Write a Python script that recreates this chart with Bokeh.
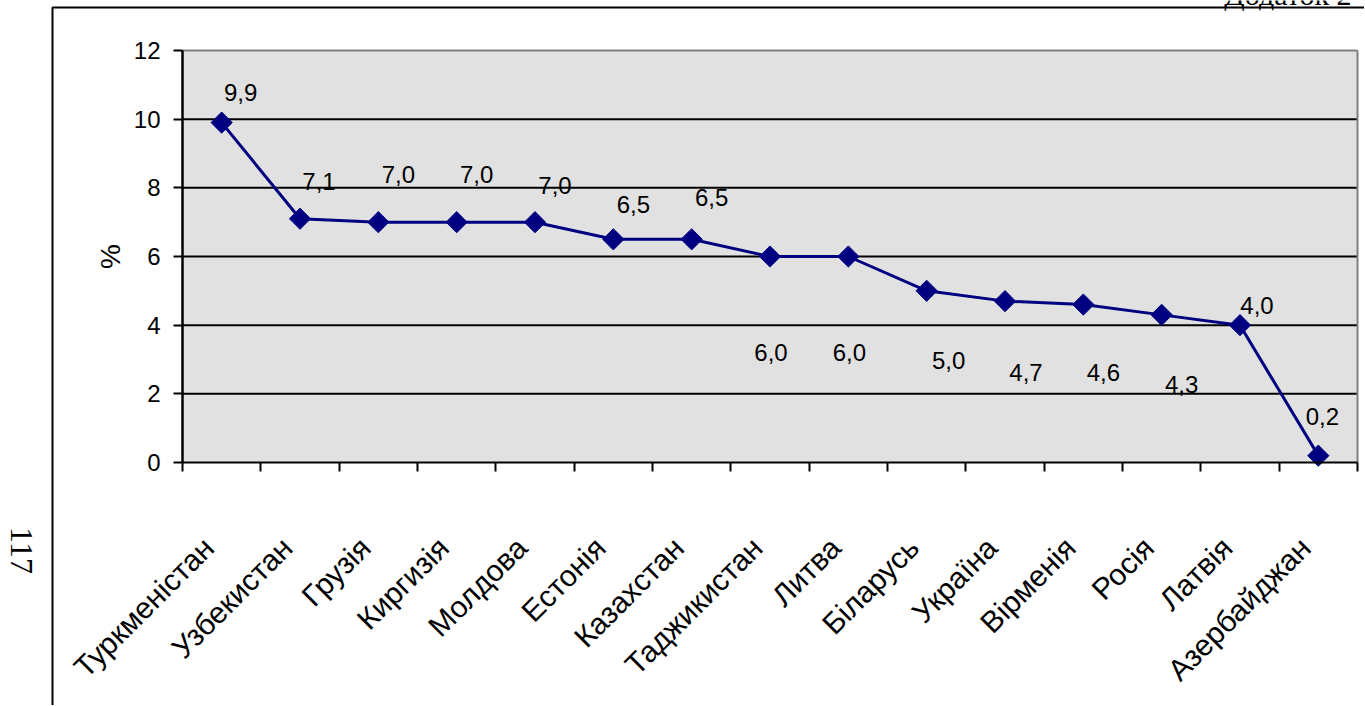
import math
from bokeh.plotting import figure
from bokeh.models import (Range1d, LinearAxis, FixedTicker, ColumnDataSource,
                          BoxAnnotation, Label)
from bokeh.core.properties import value
from bokeh.embed import file_html
from bokeh.resources import INLINE

# ---- data ----
countries = ["Туркменістан", "Узбекистан", "Грузія", "Киргизія", "Молдова",
             "Естонія", "Казахстан", "Таджикистан", "Литва", "Біларусь",
             "Україна", "Вірменія", "Росія", "Латвія", "Азербайджан"]
values = [9.9, 7.1, 7.0, 7.0, 7.0, 6.5, 6.5, 6.0, 6.0, 5.0, 4.7, 4.6, 4.3, 4.0, 0.2]
value_labels = ["9,9", "7,1", "7,0", "7,0", "7,0", "6,5", "6,5", "6,0", "6,0",
                "5,0", "4,7", "4,6", "4,3", "4,0", "0,2"]
y_ticks = [0, 2, 4, 6, 8, 10, 12]
y_label = "%"
page_note = "Додаток 2"
page_number = "117"

# ---- label offsets (style, pixels) ----
dx = [19, 19, 20, 20, 20, 20, 20, 1, 1, 22, 21, 20, 20, 17, 4]
dy = [-30, -37, -48, -48, -37, -35, -42, 96, 96, 70, 71, 68, 70, -20, -39]

# ---- layout (pixels) ----
W, H = 1364, 705
PL, PR, PT, PB = 182, 1357, 50, 462       # plot-area edges on the page
n = len(countries)
ymax = y_ticks[-1]
sx = (PR - PL) / n
sy = (PB - PT) / ymax

xs = [i + 0.5 for i in range(n)]
label_shift = 13 / sx
xl = [x - label_shift for x in xs]

FONT = "Liberation Sans"
p = figure(width=W, height=H, output_backend="svg", toolbar_location=None,
           x_range=Range1d(-PL / sx, (W - PL) / sx),
           y_range=Range1d(-(H - PB) / sy, PB / sy),
           x_axis_location=None, y_axis_location=None,
           min_border_left=0, min_border_right=0, min_border_top=0, min_border_bottom=0)
p.background_fill_color = "white"
p.border_fill_color = "white"
p.outline_line_color = None
p.grid.visible = False

# plot area
p.add_layout(BoxAnnotation(left=0, right=n, bottom=0, top=ymax, level="image",
                           fill_color="#E1E1E1", fill_alpha=1, line_color=None))
p.segment(x0=[0] * (len(y_ticks) - 2), x1=[n] * (len(y_ticks) - 2),
          y0=y_ticks[1:-1], y1=y_ticks[1:-1], line_color="black", line_width=2)
# grey top and right edges of the plot area
p.segment(x0=[0, n], x1=[n, n], y0=[ymax, 0], y1=[ymax, ymax],
          line_color="#808080", line_width=2)
# black left edge (value axis rule)
p.segment(x0=[0], x1=[0], y0=[0], y1=[ymax], line_color="black", line_width=2)

# y axis
ya = LinearAxis(fixed_location=0, bounds=(0, ymax), ticker=FixedTicker(ticks=y_ticks))
ya.axis_line_width = 2
ya.axis_line_color = "black"
ya.major_tick_line_width = 2
ya.major_tick_line_color = "black"
ya.major_tick_out = 9
ya.major_tick_in = 0
ya.minor_tick_line_color = None
ya.major_label_text_font = FONT
ya.major_label_text_font_size = "24px"
ya.major_label_text_color = "black"
ya.major_label_standoff = 13
ya.axis_label = y_label
ya.axis_label_text_font = FONT
ya.axis_label_text_font_style = "normal"
ya.axis_label_text_font_size = "28px"
ya.axis_label_text_color = "black"
ya.axis_label_standoff = 5
p.add_layout(ya, "left")

# x axis: labels at centres, ticks at boundaries (minor)
xa = LinearAxis(fixed_location=0, bounds=(0, n),
                ticker=FixedTicker(ticks=xl, minor_ticks=list(range(n + 1))))
xa.major_label_overrides = {x: c for x, c in zip(xl, countries)}
xa.major_tick_line_color = None
xa.minor_tick_out = 9
xa.minor_tick_in = 0
xa.minor_tick_line_width = 2
xa.minor_tick_line_color = "black"
xa.axis_line_width = 2
xa.axis_line_color = "black"
xa.major_label_orientation = math.pi / 4
xa.major_label_text_font = FONT
xa.major_label_text_font_size = "30px"
xa.major_label_text_color = "black"
xa.major_label_standoff = 71
p.add_layout(xa, "below")

src = ColumnDataSource(dict(x=xs, y=values, t=value_labels, dx=dx, dy=dy))
p.line("x", "y", source=src, line_color="#000080", line_width=3)
p.scatter("x", "y", source=src, marker="square", angle=math.pi / 4, size=15,
          fill_color="#000080", line_color="#000080")
p.text("x", "y", text="t", source=src, x_offset="dx", y_offset="dy",
       text_font=value(FONT), text_font_size="24px", text_color="black",
       text_align="center", text_baseline="middle")

# page decorations (screen units, frame = whole canvas)
p.add_layout(BoxAnnotation(left=52, right=W + 20, top=H - 7, bottom=-20,
                           left_units="screen", right_units="screen",
                           top_units="screen", bottom_units="screen",
                           fill_alpha=0, line_color="black", line_alpha=1,
                           line_width=2))
p.add_layout(Label(x=21, y=H - 550, x_units="screen", y_units="screen",
                   text=page_number, angle=-math.pi / 2, text_color="black",
                   text_font="Liberation Serif", text_font_size="32px",
                   text_align="center", text_baseline="middle"))
p.add_layout(Label(x=1351, y=H + 6, x_units="screen", y_units="screen",
                   text=page_note, text_font="Liberation Serif", text_color="black",
                   text_font_size="30px", text_align="right",
                   text_baseline="alphabetic"))

open("out.html", "w").write(file_html(p, INLINE))
